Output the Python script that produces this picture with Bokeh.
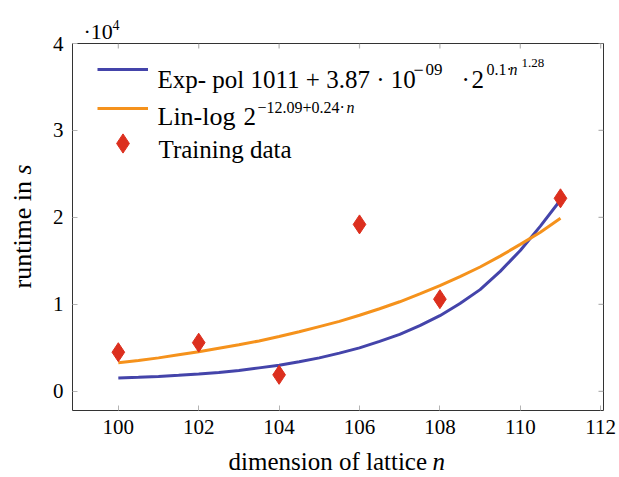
import math
from bokeh.plotting import figure
from bokeh.models import Label, Legend, LegendItem, Range1d, FixedTicker
from bokeh.embed import file_html
from bokeh.resources import INLINE

# ---- data (values in units of 10^4 s) ----
n_fit = [100, 100.5, 101, 101.5, 102, 102.5, 103, 103.5, 104, 104.5, 105, 105.5,
         106, 106.5, 107, 107.5, 108, 108.5, 109, 109.5, 110, 110.5, 111]
exp_pol = [0.155, 0.162, 0.172, 0.185, 0.20, 0.218, 0.24, 0.27, 0.30, 0.34, 0.385, 0.44,
           0.50, 0.575, 0.655, 0.755, 0.87, 1.01, 1.17, 1.38, 1.62, 1.90, 2.20]
lin_log = [0.33, 0.355, 0.385, 0.42, 0.455, 0.495, 0.535, 0.58, 0.63, 0.685, 0.745, 0.805,
           0.875, 0.95, 1.03, 1.12, 1.215, 1.32, 1.43, 1.555, 1.69, 1.83, 1.99]
train_n = [100, 102, 104, 106, 108, 111]
train_rt = [0.45, 0.56, 0.19, 1.92, 1.06, 2.22]
x_ticks = [100, 102, 104, 106, 108, 110, 112]
y_ticks = [0, 1, 2, 3, 4]

BLUE = "#4444aa"
ORANGE = "#f5921c"
RED = "#dc2f1e"
TICK = "#b4b4b4"
FONT = "Liberation Serif"

X_START, X_END = 98.86, 112.07
Y_START, Y_END = -0.22, 4.0
FW, FH = 531, 367
BL, BT = 72, 43

p = figure(frame_width=FW, frame_height=FH,
           min_border_left=BL, min_border_right=16, min_border_top=BT, min_border_bottom=67,
           x_range=Range1d(X_START, X_END), y_range=Range1d(Y_START, Y_END),
           output_backend="svg", toolbar_location=None)
p.background_fill_color = "white"
p.border_fill_color = "white"
p.outline_line_color = "#333333"
p.outline_line_width = 1
p.xgrid.visible = False
p.ygrid.visible = False

for ax, ticks in ((p.xaxis[0], x_ticks), (p.yaxis[0], y_ticks)):
    ax.ticker = FixedTicker(ticks=ticks)
    ax.axis_line_color = None
    ax.major_tick_in = 5
    ax.major_tick_out = 0
    ax.major_tick_line_color = TICK
    ax.minor_tick_line_color = None
    ax.major_label_text_font = FONT
    ax.major_label_text_color = "black"
    ax.major_label_text_font_size = "21px"
    ax.major_label_standoff = 9

# mirrored tick marks on the top and right frame edges (5 px long)
tx = 5 / FW * (X_END - X_START)
ty = 5 / FH * (Y_END - Y_START)
p.segment(x0=x_ticks, x1=x_ticks, y0=[Y_END] * len(x_ticks), y1=[Y_END - ty] * len(x_ticks),
          line_color=TICK, line_width=1.2)
p.segment(x0=[X_END] * len(y_ticks), x1=[X_END - tx] * len(y_ticks), y0=y_ticks, y1=y_ticks,
          line_color=TICK, line_width=1.2)

r_exp = p.line(n_fit, exp_pol, line_color=BLUE, line_width=3)
r_lin = p.line(n_fit, lin_log, line_color=ORANGE, line_width=3)
r_tr = p.scatter(train_n, train_rt, marker="diamond", size=19, fill_color=RED, line_color=RED)

def mk_legend(r, loc, gh):
    lg = Legend(items=[LegendItem(label=" ", renderers=[r])], location=loc,
                glyph_width=51, glyph_height=gh, padding=0, margin=0, spacing=0,
                border_line_color=None, background_fill_alpha=0,
                label_text_font_size="1px", label_standoff=0, label_width=0, label_height=0)
    p.add_layout(lg)

mk_legend(r_exp, (25, FH - 16 - 20), 20)
mk_legend(r_lin, (25, FH - 55 - 20), 20)
mk_legend(r_tr, (25, FH - 76 - 48), 48)

def dx(px):
    return X_START + (px - BL) / FW * (X_END - X_START)

def dy(py):
    return Y_END - (py - BT) / FH * (Y_END - Y_START)

def txt(s, px, py, size, italic=False):
    p.add_layout(Label(x=dx(px), y=dy(py), text=s, text_font=FONT,
                       text_font_size=f"{size}px", text_color="black",
                       text_font_style="italic" if italic else "normal",
                       text_baseline="alphabetic", text_align="left"))

def ctxt(s, px, py, size, side, italic=False, angle=0.0):
    p.add_layout(Label(x=px, y=py, x_units="canvas", y_units="canvas",
                       text=s, text_font=FONT,
                       text_font_size=f"{size}px", text_color="black",
                       text_font_style="italic" if italic else "normal",
                       text_baseline="alphabetic", text_align="left", angle=angle), side)

LS = 25
SS = 16
# legend row 1
txt("Exp- pol 1011 + 3.87 \u00b7 10", 157, 79, LS)
txt("\u2212", 413, 69, 18)
txt("09", 425, 69, 17)
txt("\u00b7", 461, 79, LS)
txt("2", 471, 79, LS)
txt("0.1\u00b7", 486, 69, SS)
txt("n", 509, 69, SS, italic=True)
txt("1.28", 521, 62, 13)
# legend row 2
txt("Lin-log", 157, 116, 26)
txt("2", 243, 116, LS)
txt("\u221212.09+0.24\u00b7", 257, 107, SS)
txt("n", 346, 107, SS, italic=True)
# legend row 3
txt("Training data", 158, 149, LS)

# axis multiplier (outside the frame, top panel)
ctxt("\u00b710", 83, 31, 22, "above")
ctxt("4", 112, 24, 14, "above")

# axis labels (outside the frame; kept in the bottom panel so the frame does not move)
ctxt("dimension of lattice", 228, 461, 25, "below")
ctxt("n", 432, 461, 25, "below", italic=True)
ctxt("runtime in", 22, 288, 26, "below", angle=math.pi / 2)
ctxt("s", 22, 174, 26, "below", italic=True, angle=math.pi / 2)

open("out.html", "w").write(file_html(p, INLINE))
